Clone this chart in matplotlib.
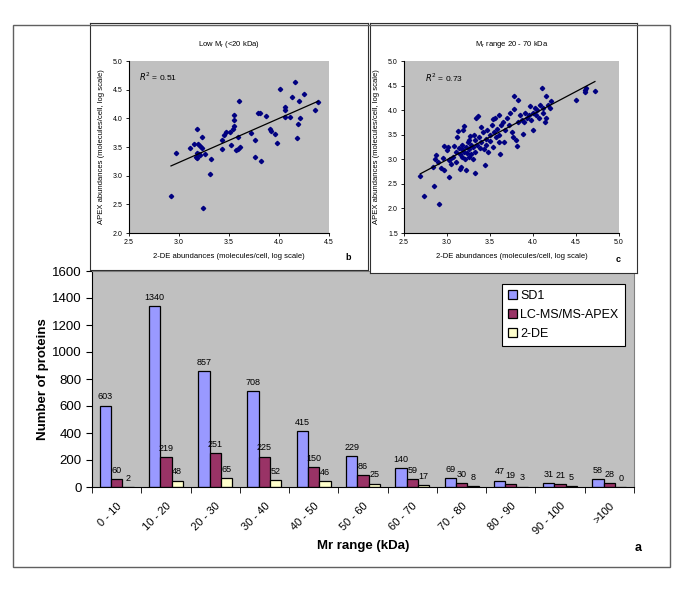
import matplotlib
matplotlib.use("Agg")
import matplotlib.pyplot as plt
import numpy as np
from matplotlib.patches import Rectangle
from matplotlib.ticker import FormatStrFormatter

plt.rcParams['font.family'] = ['Liberation Sans', 'DejaVu Sans']

# main bar chart data
mr_ranges = ['0 - 10', '10 - 20', '20 - 30', '30 - 40', '40 - 50', '50 - 60',
             '60 - 70', '70 - 80', '80 - 90', '90 - 100', '>100']
sd1 = [603, 1340, 857, 708, 415, 229, 140, 69, 47, 31, 58]
lc_apex = [60, 219, 251, 225, 150, 86, 59, 30, 19, 21, 28]
two_de = [2, 48, 65, 52, 46, 25, 17, 8, 3, 5, 0]
series_names = ['SD1', 'LC-MS/MS-APEX', '2-DE']
series_colors = ['#9999FF', '#993366', '#FFFFCC']

# inset b: low Mr (<20 kDa), 2-DE vs APEX (log10)
b_x = [2.92, 2.97, 3.11, 3.15, 3.18, 3.19, 3.21, 3.23, 3.18, 3.20, 3.17, 3.18,
       3.21, 3.23, 3.26, 3.24, 3.32, 3.31, 3.43, 3.43, 3.45, 3.47, 3.51, 3.54,
       3.55, 3.55, 3.55, 3.52, 3.60, 3.59, 3.57, 3.59, 3.61, 3.72, 3.76, 3.76,
       3.79, 3.81, 3.82, 3.87, 3.91, 3.92, 3.96, 3.98, 4.01, 4.06, 4.06, 4.06,
       4.11, 4.13, 4.16, 4.18, 4.19, 4.20, 4.21, 4.25, 4.36, 4.39]
b_y = [2.65, 3.39, 3.49, 3.56, 3.81, 3.56, 3.52, 3.49, 3.40, 3.37, 3.33, 3.30,
       3.36, 3.68, 3.38, 2.44, 3.29, 3.03, 3.47, 3.62, 3.71, 3.77, 3.77, 3.82,
       3.86, 3.97, 4.06, 3.54, 4.31, 3.67, 3.44, 3.47, 3.50, 3.75, 3.62, 3.33,
       4.09, 4.10, 3.25, 4.04, 3.82, 3.78, 3.73, 3.57, 4.52, 4.20, 4.14, 4.02,
       4.02, 4.37, 4.63, 3.65, 3.90, 4.31, 4.00, 4.42, 4.14, 4.28]

# inset c: Mr 20 - 70 kDa
c_x = [2.69, 2.73, 2.85, 2.91, 3.02, 2.84, 2.86, 2.87, 2.90, 2.93, 2.95, 2.96,
       2.97, 3.00, 3.01, 3.02, 3.03, 3.05, 3.07, 3.08, 3.10, 3.10, 3.12, 3.13,
       3.14, 3.15, 3.15, 3.16, 3.17, 3.18, 3.18, 3.19, 3.20, 3.20, 3.21, 3.22,
       3.22, 3.23, 3.24, 3.25, 3.25, 3.26, 3.27, 3.28, 3.28, 3.30, 3.30, 3.31,
       3.32, 3.32, 3.33, 3.34, 3.35, 3.36, 3.37, 3.38, 3.40, 3.40, 3.42, 3.43,
       3.44, 3.45, 3.45, 3.47, 3.48, 3.50, 3.50, 3.52, 3.53, 3.54, 3.55, 3.56,
       3.57, 3.58, 3.60, 3.60, 3.61, 3.62, 3.63, 3.65, 3.66, 3.68, 3.70, 3.72,
       3.73, 3.75, 3.77, 3.78, 3.78, 3.80, 3.81, 3.82, 3.83, 3.85, 3.87, 3.88,
       3.90, 3.91, 3.93, 3.95, 3.96, 3.98, 4.00, 4.00, 4.02, 4.03, 4.05, 4.07,
       4.08, 4.10, 4.12, 4.12, 4.14, 4.15, 4.15, 4.17, 4.20, 4.21, 4.50, 4.60,
       4.61, 4.62, 4.72]
c_y = [2.67, 2.25, 2.45, 2.08, 2.63, 2.85, 3.00, 3.08, 2.95, 2.83, 3.02, 2.78,
       3.28, 3.18, 3.25, 2.98, 3.00, 2.90, 3.05, 3.28, 2.95, 3.15, 3.45, 3.58,
       3.22, 3.10, 2.80, 2.85, 3.20, 3.05, 3.30, 3.60, 3.68, 3.15, 3.00, 3.25,
       2.78, 3.12, 3.35, 3.05, 3.40, 3.20, 3.47, 3.10, 3.30, 3.00, 3.25, 3.50,
       2.72, 3.40, 3.15, 3.85, 3.30, 3.88, 3.45, 3.22, 3.35, 3.65, 3.55, 3.20,
       2.89, 3.30, 3.42, 3.60, 3.15, 3.50, 3.38, 3.70, 3.25, 3.82, 3.55, 3.85,
       3.45, 3.62, 3.90, 3.35, 3.50, 3.11, 3.70, 3.75, 3.35, 3.60, 3.85, 3.70,
       3.95, 3.55, 3.45, 4.02, 4.28, 3.40, 3.27, 4.20, 3.75, 3.90, 3.80, 3.52,
       3.75, 3.95, 3.85, 3.90, 4.08, 3.80, 3.60, 3.95, 4.05, 3.90, 4.00, 3.85,
       4.10, 4.45, 3.95, 4.05, 3.75, 4.28, 3.85, 4.10, 4.05, 4.18, 4.20, 4.42,
       4.37, 4.45, 4.38]

W, H = 685, 593
fig = plt.figure(figsize=(W / 100, H / 100), dpi=100)


def box(x0, y0, x1, y1):
    """pixel box (top-left origin) -> fig fraction rect"""
    return [x0 / W, 1 - y1 / H, (x1 - x0) / W, (y1 - y0) / H]


# outer frame
fig.patches.append(Rectangle((13 / W, 1 - 567 / H), 657 / W, 542 / H,
                             transform=fig.transFigure, fill=False,
                             edgecolor='#606060', lw=1.0))

# ---- main bar chart (a) ----
ax = fig.add_axes(box(92, 271, 634, 487))
ax.set_facecolor('#C0C0C0')
x = np.arange(len(mr_ranges))
width = 0.23
for k, (vals, name, col) in enumerate(zip([sd1, lc_apex, two_de], series_names, series_colors)):
    bars = ax.bar(x + (k - 1) * width, vals, width, color=col, edgecolor='black',
                  linewidth=0.9, label=name)
    for rect, v in zip(bars, vals):
        ax.annotate(str(v), (rect.get_x() + rect.get_width() / 2, rect.get_height()),
                    xytext=(0, 3), textcoords='offset points', ha='center',
                    va='bottom', fontsize=6.5)

ax.set_xlim(-0.5, len(mr_ranges) - 0.5)
ax.set_ylim(0, 1600)
ax.set_yticks(np.arange(0, 1601, 200))
ax.set_xticks(x)
ax.set_xticklabels(mr_ranges, rotation=45, ha='right', rotation_mode='anchor', fontsize=8)
ax.set_xticks(np.arange(-0.5, len(mr_ranges)), minor=True)
ax.tick_params(axis='x', which='major', length=0, pad=10)
ax.tick_params(axis='x', which='minor', length=4, direction='out')
ax.tick_params(axis='y', length=4, labelsize=9.5)
for s in ['top', 'right']:
    ax.spines[s].set_color('#808080')
ax.set_ylabel('Number of proteins', fontsize=9.5, fontweight='bold', labelpad=2)
ax.set_xlabel('Mr range (kDa)', fontsize=9.5, fontweight='bold', labelpad=2)
leg = ax.legend(loc='upper right', bbox_to_anchor=(0.9945, 0.97), fontsize=9,
                frameon=True, fancybox=False, edgecolor='black', framealpha=1,
                handlelength=0.7, handleheight=0.7, handletextpad=0.3,
                labelspacing=0.55, borderpad=0.5)
leg.get_frame().set_linewidth(0.8)
fig.text(638 / W, 1 - 548 / H, 'a', fontsize=9, fontweight='bold', ha='center', va='center')


def inset(frame_px, axes_px, xs, ys, xlim, ylim, xt, yt, title, r2, r2pos, letter, letter_px):
    fr = fig.add_axes(box(*frame_px))
    fr.set_facecolor('white')
    fr.set_xticks([])
    fr.set_yticks([])
    for s in fr.spines.values():
        s.set_linewidth(0.8)
        s.set_color('#303030')
    a = fig.add_axes(box(*axes_px))
    a.set_facecolor('#C0C0C0')
    a.plot(xs, ys, linestyle='none', marker='D', markersize=2.2, color='#000080')
    m, c = np.polyfit(xs, ys, 1)
    lx = np.array([min(xs), max(xs)])
    a.plot(lx, m * lx + c, color='black', lw=0.9)
    a.set_xlim(*xlim)
    a.set_ylim(*ylim)
    a.set_xticks(xt)
    a.set_yticks(yt)
    a.xaxis.set_major_formatter(FormatStrFormatter('%.1f'))
    a.yaxis.set_major_formatter(FormatStrFormatter('%.1f'))
    a.tick_params(labelsize=5, length=2.5, width=0.6, pad=2)
    for s in ['top', 'right']:
        a.spines[s].set_visible(False)
    for s in ['left', 'bottom']:
        a.spines[s].set_linewidth(0.8)
    a.set_title(title, fontsize=5.5, pad=11)
    a.set_xlabel('2-DE abundances (molecules/cell, log scale)', fontsize=5.5, labelpad=5)
    a.set_ylabel('APEX abundances (molecules/cell, log scale)', fontsize=5.5, labelpad=6)
    a.text(r2pos[0], r2pos[1], r2, fontsize=6)
    fig.text(letter_px[0] / W, 1 - letter_px[1] / H, letter, fontsize=6.5,
             fontweight='bold', ha='center', va='center')


inset((90, 23, 368, 270), (129, 61, 329, 233), b_x, b_y, (2.5, 4.5), (2.0, 5.0),
      np.arange(2.5, 4.51, 0.5), np.arange(2.0, 5.01, 0.5),
      'Low M$_\\mathregular{r}$ (<20 kDa)', '$R^2$ = 0.51', (2.6, 4.65), 'b', (348, 258))
inset((370, 23, 637, 273), (404, 61, 619, 233), c_x, c_y, (2.5, 5.0), (1.5, 5.0),
      np.arange(2.5, 5.01, 0.5), np.arange(1.5, 5.01, 0.5),
      'M$_\\mathregular{r}$ range 20 - 70 kDa', '$R^2$ = 0.73', (2.74, 4.58), 'c', (618, 259))

fig.savefig('out.png', dpi=100)
